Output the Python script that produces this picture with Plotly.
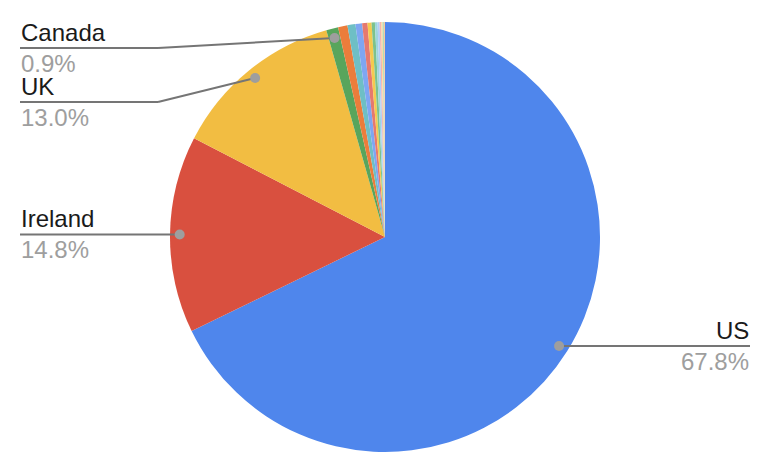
import math
import plotly.graph_objects as go

# ---- data ----
countries = ["US", "Ireland", "UK", "Canada", "Germany", "France", "Australia",
             "India", "Netherlands", "Spain", "Sweden", "Italy", "Japan",
             "Brazil", "Singapore", "Switzerland"]
shares = [67.8, 14.8, 13.0, 0.9, 0.7, 0.6, 0.5, 0.4, 0.3, 0.25,
          0.2, 0.15, 0.12, 0.1, 0.1, 0.08]
colors = ["#4f86ec", "#d9503f", "#f2bd42", "#58a55c", "#eb7d3b", "#6ebfc5",
          "#7ea6f2", "#e5796f", "#f5ca4f", "#7dc28c", "#9ed6db", "#b2cdf7",
          "#f3b3ac", "#fcd79a", "#b1dbbd", "#fbc79e"]
labelled = ["US", "Ireland", "UK", "Canada"]

W, H = 770, 474
OFF = 8  # page body margin
CX, CY, R = 385, 237, 215

def px(x):
    return (x - OFF) / W

def py(y):
    return 1 - (y - OFF) / H

fig = go.Figure(go.Pie(
    labels=countries, values=shares, sort=False, direction="clockwise",
    rotation=0, marker=dict(colors=colors, line=dict(width=0)),
    textinfo="none", hoverinfo="label+percent", showlegend=False,
    domain=dict(x=[px(CX - R), px(CX + R)], y=[py(CY + R), py(CY - R)]),
))

total = sum(shares)
cum = 0.0
mid = {}
for c, v in zip(countries, shares):
    mid[c] = (cum + v / 2) / total * 360.0
    cum += v

def dot_pos(c):
    a = math.radians(mid[c])
    rr = R * 0.955
    return CX + rr * math.sin(a), CY - rr * math.cos(a)

shapes = []
annotations = []
LINE_C = "#757575"
DOT_C = "#9e9e9e"
NAME_C = "#1a1a1a"
PCT_C = "#9e9e9e"
FONT = "Liberation Sans, Arial, sans-serif"

left_x = 20
right_x = 750
bend_x = 158
row_y = {"Canada": 48, "UK": 102}

for c in labelled:
    dx, dy = dot_pos(c)
    pct = shares[countries.index(c)] / total * 100
    if c in row_y:
        ly = row_y[c]
        shapes.append(dict(type="line", xref="paper", yref="paper",
                           x0=px(dx), y0=py(dy), x1=px(bend_x), y1=py(ly),
                           line=dict(color=LINE_C, width=2)))
        shapes.append(dict(type="line", xref="paper", yref="paper",
                           x0=px(bend_x), y0=py(ly), x1=px(left_x), y1=py(ly),
                           line=dict(color=LINE_C, width=2)))
        tx, anchor = left_x, "left"
    else:
        ly = dy
        if dx < CX:
            tx, anchor = left_x, "left"
        else:
            tx, anchor = right_x, "right"
        shapes.append(dict(type="line", xref="paper", yref="paper",
                           x0=px(dx), y0=py(ly), x1=px(tx), y1=py(ly),
                           line=dict(color=LINE_C, width=2)))
    rd = 5
    shapes.append(dict(type="circle", xref="paper", yref="paper",
                       x0=px(dx - rd), x1=px(dx + rd), y0=py(dy + rd), y1=py(dy - rd),
                       fillcolor=DOT_C, line=dict(width=0)))
    annotations.append(dict(xref="paper", yref="paper", x=px(tx), y=py(ly - 1),
                            xanchor=anchor, yanchor="bottom", showarrow=False,
                            text=c, font=dict(family=FONT, size=24, color=NAME_C),
                            borderpad=0))
    annotations.append(dict(xref="paper", yref="paper", x=px(tx), y=py(ly + 1),
                            xanchor=anchor, yanchor="top", showarrow=False,
                            text=f"{pct:.1f}%", font=dict(family=FONT, size=24, color=PCT_C),
                            borderpad=0))

fig.update_layout(width=W, height=H, margin=dict(l=0, r=0, t=0, b=0),
                  paper_bgcolor="white", plot_bgcolor="white",
                  shapes=shapes, annotations=annotations)

fig.write_html("out.html")
